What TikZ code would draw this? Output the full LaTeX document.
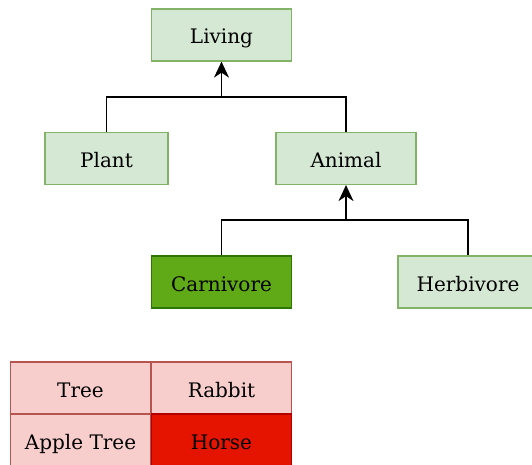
\documentclass[tikz,border=0pt]{standalone}
\usepackage{fontspec}
\setmainfont{DejaVu Serif}
\usetikzlibrary{arrows.meta}

\definecolor{greenfill}{HTML}{D5E8D4}
\definecolor{greenline}{HTML}{82B366}
\definecolor{darkfill}{HTML}{60A917}
\definecolor{darkline}{HTML}{2D7600}
\definecolor{pinkfill}{HTML}{F8CECC}
\definecolor{pinkline}{HTML}{B85450}
\definecolor{redfill}{HTML}{E51400}
\definecolor{redline}{HTML}{B20000}

\begin{document}
\begin{tikzpicture}[x=1pt, y=-1pt,
    box/.style={draw=greenline, fill=greenfill, line width=1.2pt, minimum width=140pt, minimum height=52pt, inner sep=0pt, text height=22pt, text depth=4pt, font=\fontsize{20}{22}\selectfont},
    chosen/.style={box, draw=darkline, fill=darkfill},
    cell/.style={box, draw=pinkline, fill=pinkfill},
    hot/.style={box, draw=redline, fill=redfill},
    link/.style={line width=1.7pt},
    isa/.style={link, -{Stealth[length=16pt, width=15pt, inset=5pt]}}]
    \useasboundingbox (0,0) rectangle (532,465);

    \node[box] (living) at (221.5,35) {Living};
    \node[box, minimum width=123pt] (plant) at (106.5,158.5) {Plant};
    \node[box] (animal) at (346,158.5) {Animal};
    \node[chosen] (carnivore) at (221.5,282) {Carnivore};
    \node[box] (herbivore) at (468,282) {Herbivore};

    % table
    \node[cell] (tree) at (80.5,388) {Tree};
    \node[cell] (rabbit) at (221.5,388) {Rabbit};
    \node[cell] (appletree) at (80.5,440) {Apple Tree};
    \node[hot] (horse) at (221.5,440) {Horse};

    % Draw edges
    \coordinate (top) at (221.5,97);
    \coordinate (mid) at (346,220);
    \draw[link] (plant.north) |- (top) -| (animal.north);
    \draw[isa] (top) -- (living.south);
    \draw[link] (carnivore.north) |- (mid) -| (herbivore.north);
    \draw[isa] (mid) -- (animal.south);
\end{tikzpicture}
\end{document}
